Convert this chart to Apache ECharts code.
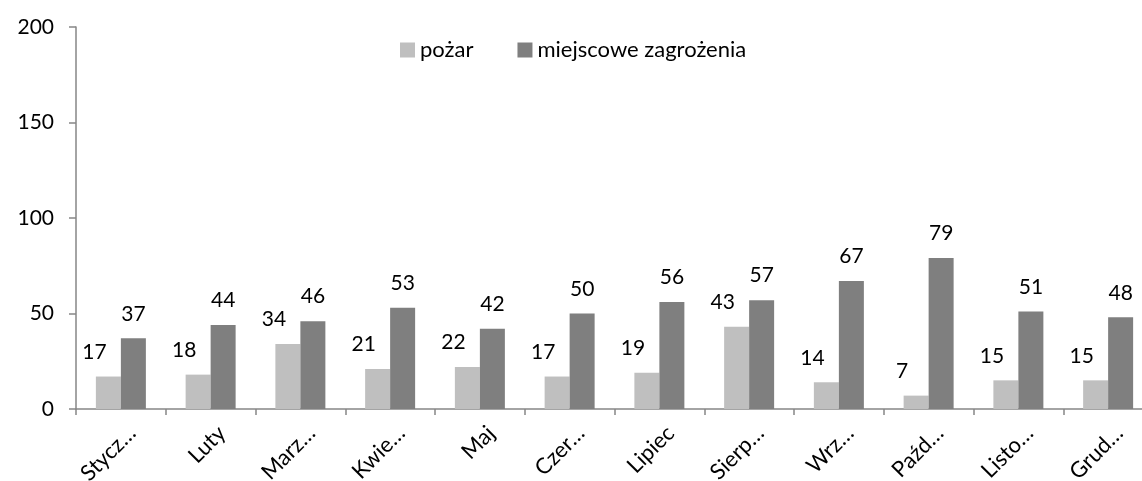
<!DOCTYPE html>
<html>
<head>
<meta charset="utf-8">
<script src="https://cdn.jsdelivr.net/npm/echarts@6/dist/echarts.min.js"></script>
<style>
  html, body { margin: 0; padding: 0; background: #fff; }
  #main { width: 1142px; height: 481px; }
</style>
</head>
<body>
<div id="main"></div>
<script>
// miesiace (etykiety jak na wykresie)
var months = ['Stycz…', 'Luty', 'Marz…', 'Kwie…', 'Maj', 'Czer…', 'Lipiec', 'Sierp…', 'Wrz…', 'Paźd…', 'Listo…', 'Grud…'];
var pozar = [17, 18, 34, 21, 22, 17, 19, 43, 14, 7, 15, 15];
var miejscowe = [37, 44, 46, 53, 42, 50, 56, 57, 67, 79, 51, 48];
var yTicks = [0, 50, 100, 150, 200];

var font = 'Lato, "Open Sans", sans-serif';
var myChart = echarts.init(document.getElementById('main'));
myChart.setOption({
  animation: false,
  textStyle: { fontFamily: font },
  legend: {
    left: 395,
    top: 34,
    itemWidth: 15,
    itemHeight: 15,
    itemGap: 44,
    icon: 'rect',
    textStyle: { fontSize: 22, color: '#000', fontFamily: font },
    data: ['pożar', 'miejscowe zagrożenia']
  },
  // wykres wychodzi poza prawa krawedz (jak w oryginale)
  grid: { left: 76, width: 1077, top: 27, bottom: 72, outerBoundsMode: 'none', containLabel: false },
  xAxis: {
    type: 'category',
    data: months,
    axisLine: { lineStyle: { color: '#868686', width: 1.5 } },
    axisTick: { show: true, length: 6, lineStyle: { color: '#868686', width: 1.5 } },
    axisLabel: {
      rotate: 45, margin: 32, padding: [0, -16, 0, 0],
      fontSize: 22, color: '#000', fontFamily: font
    }
  },
  yAxis: {
    type: 'value',
    min: yTicks[0],
    max: yTicks[yTicks.length - 1],
    interval: 50,
    splitLine: { show: false },
    axisLine: { show: true, lineStyle: { color: '#868686', width: 1.5 } },
    axisTick: { show: true, length: 7, lineStyle: { color: '#868686', width: 1.5 } },
    axisLabel: { margin: 22, fontSize: 21, color: '#000', fontFamily: font }
  },
  series: [
    {
      name: 'pożar',
      type: 'bar',
      data: pozar,
      barWidth: 25,
      barGap: '0%',
      itemStyle: { color: '#bfbfbf' },
      label: {
        show: true, position: 'top', distance: 14, offset: [-14, 0],
        fontSize: 21, color: '#000', fontFamily: font
      }
    },
    {
      name: 'miejscowe zagrożenia',
      type: 'bar',
      data: miejscowe,
      barWidth: 25,
      itemStyle: { color: '#7f7f7f' },
      label: {
        show: true, position: 'top', distance: 14,
        fontSize: 21, color: '#000', fontFamily: font
      }
    }
  ]
});
</script>
</body>
</html>
